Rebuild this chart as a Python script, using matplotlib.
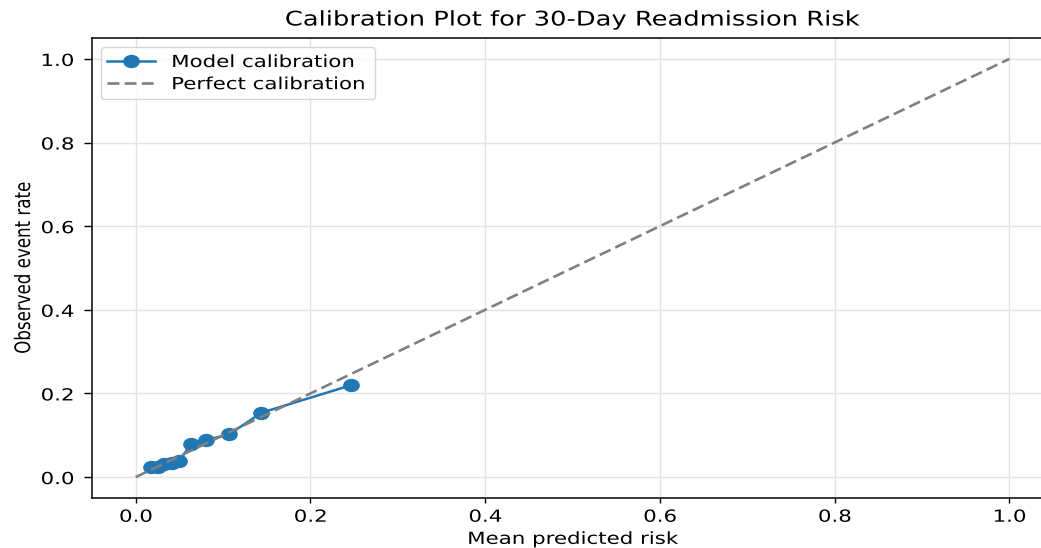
import numpy as np
import matplotlib
matplotlib.use("Agg")
import matplotlib.pyplot as plt
from matplotlib.patheffects import AbstractPathEffect
from matplotlib.transforms import Affine2D
from matplotlib.path import Path
from matplotlib.markers import MarkerStyle
from matplotlib.text import Text

# calibration bins
mean_pred = [0.018, 0.026, 0.032, 0.041, 0.050, 0.063, 0.081, 0.107, 0.144, 0.247]
obs_rate = [0.024, 0.023, 0.032, 0.033, 0.038, 0.079, 0.089, 0.102, 0.154, 0.220]
perfect = [0.0, 1.0]
x_ticks = [0.0, 0.2, 0.4, 0.6, 0.8, 1.0]
y_ticks = [0.0, 0.2, 0.4, 0.6, 0.8, 1.0]

SX = 1.28  # the reference picture is stretched sideways


class Widen(AbstractPathEffect):
    """draw a path stretched horizontally around its left/center/right edge"""
    def __init__(self, sx=SX, anchor="center"):
        super().__init__()
        self.sx = sx
        self.anchor = anchor

    def draw_path(self, renderer, gc, tpath, affine, rgbFace=None):
        pts = affine.transform(tpath.vertices)
        if self.anchor == "left":
            cx = pts[:, 0].min()
        elif self.anchor == "right":
            cx = pts[:, 0].max()
        else:
            cx = 0.5 * (pts[:, 0].min() + pts[:, 0].max())
        st = Affine2D().translate(-cx, 0).scale(self.sx, 1).translate(cx, 0)
        renderer.draw_path(gc, tpath, affine + st, rgbFace)


circ = Path.unit_circle()
wide_dot = MarkerStyle(Path(circ.vertices * [SX, 1.0], circ.codes))

fig = plt.figure(figsize=(10.41, 5.48), dpi=100)
# axes run past the right edge (reference image is cropped there)
ax = fig.add_axes([92 / 1041, 50 / 548, (1053 - 92) / 1041, (498 - 38) / 548])

ax.plot(mean_pred, obs_rate, marker=wide_dot, markersize=11, linewidth=1.8,
        color="#1f77b4", label="Model calibration")
ax.plot(perfect, perfect, linestyle=(0, (4.5, 2.0)), color="gray", linewidth=1.9,
        label="Perfect calibration")

ax.set_xlim(-0.05, 1.05)
ax.set_ylim(-0.05, 1.05)
ax.set_xticks(x_ticks)
ax.set_yticks(y_ticks)
ax.tick_params(labelsize=12, width=1.0)
ax.tick_params(axis="y", length=6, pad=7)
for s in ["left", "bottom", "top"]:
    ax.spines[s].set_linewidth(1.1)
ax.spines["right"].set_visible(False)
ax.grid(True, color="#e3e3e3", linewidth=1.0)

ax.set_title("Calibration Plot for 30-Day Readmission Risk", fontsize=14.5, pad=9)
ax.set_xlabel("Mean predicted risk", fontsize=12, labelpad=3)
ax.set_ylabel("Observed event rate", fontsize=12, labelpad=11)

leg = ax.legend(loc="upper left", fontsize=12, framealpha=0.8, handlelength=2.9,
                handletextpad=0.95, borderpad=0.35, labelspacing=0.25,
                borderaxespad=0.55)

fig.canvas.draw()
for t in fig.findobj(Text):
    if t.get_text():
        t.set_path_effects([Widen(anchor=t.get_horizontalalignment())])
for t in leg.get_texts():
    t.set_path_effects([Widen(anchor="left")])

# widen the legend frame by the extra room the wider labels take
r = fig.canvas.get_renderer()
text_w = max(t.get_window_extent(r).width for t in leg.get_texts())
frame_w = leg.get_frame().get_window_extent(r).width
leg.get_frame().set_path_effects([Widen(sx=1 + (SX - 1) * text_w / frame_w + 0.02,
                                        anchor="left")])

fig.savefig("out.png", dpi=100)
